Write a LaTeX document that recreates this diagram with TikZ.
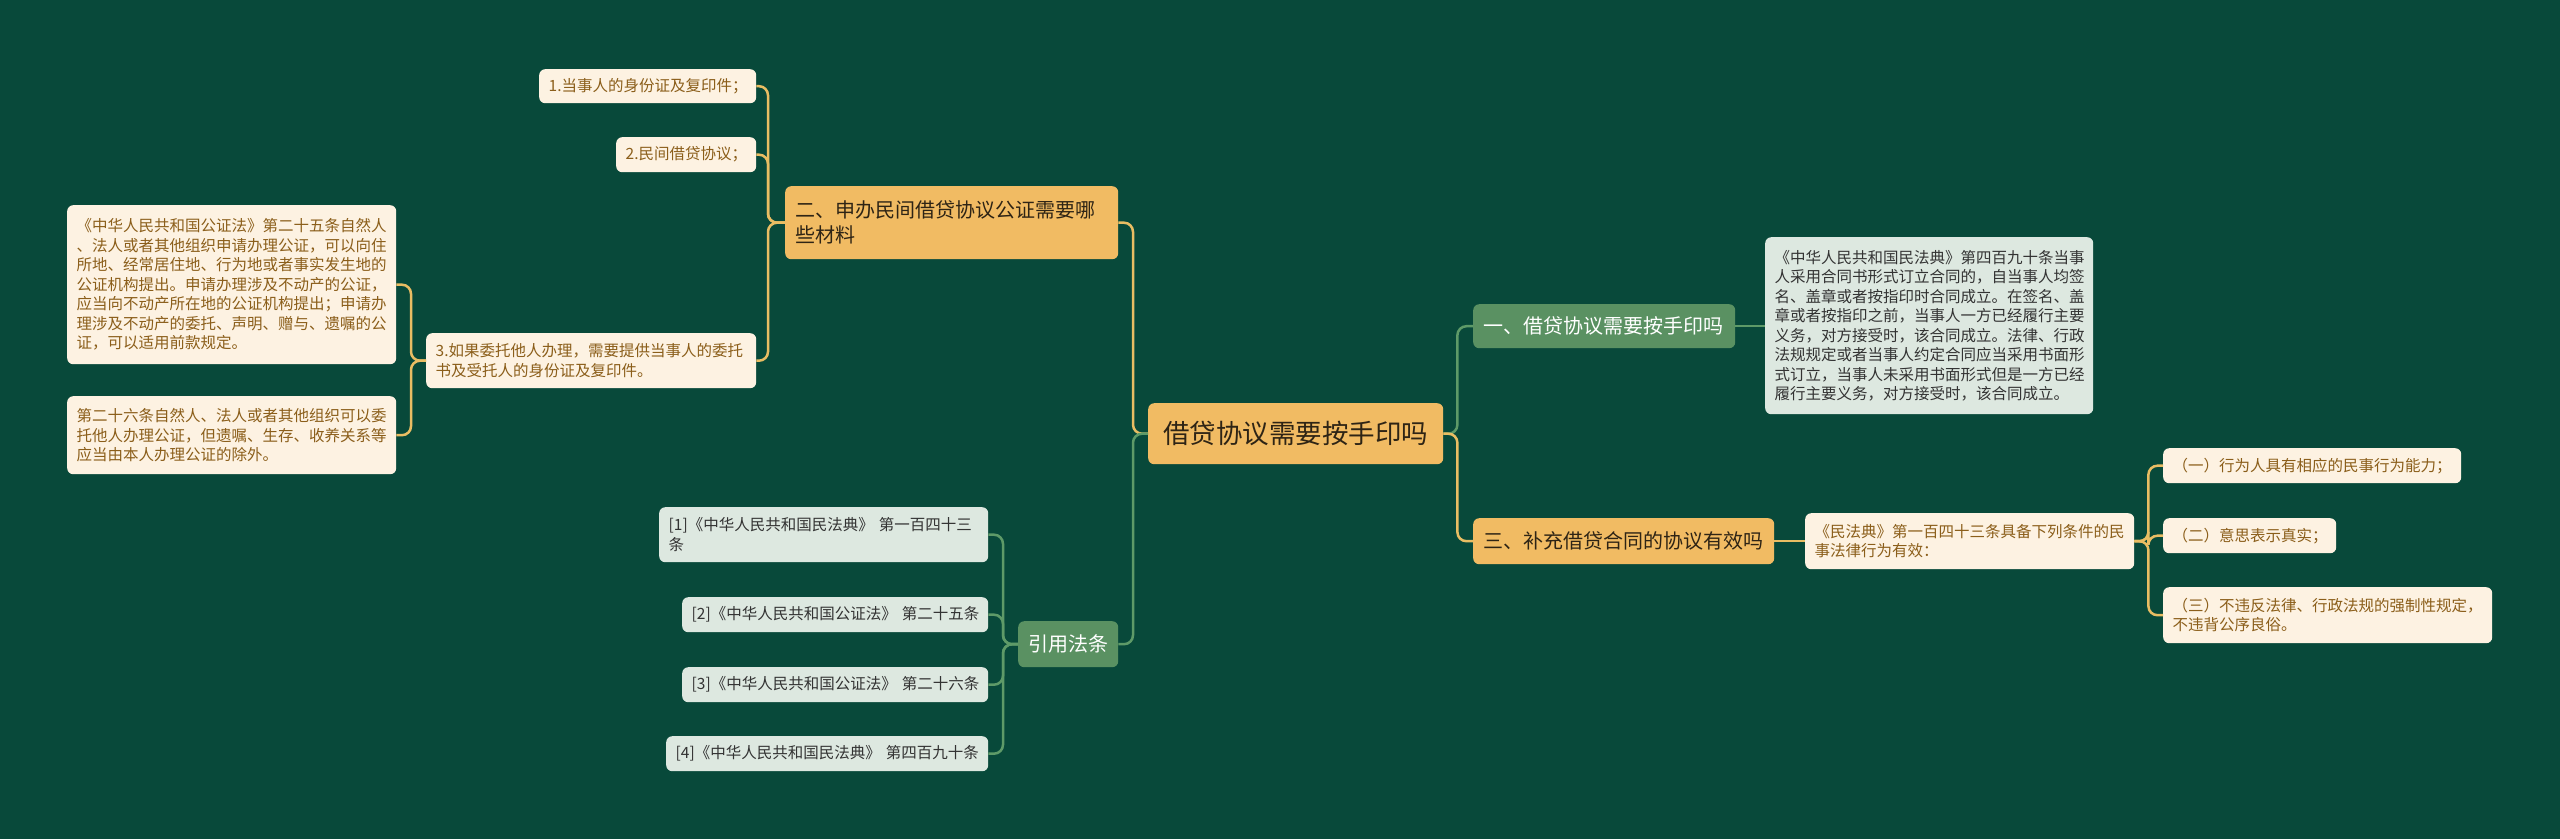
\documentclass[tikz,border=0pt]{standalone}
\usepackage{fontspec}
\setmainfont{Noto Sans CJK SC}
\definecolor{bgC}{HTML}{08493A}
\definecolor{orangeF}{HTML}{F1BB63}
\definecolor{greenF}{HTML}{5A9162}
\definecolor{cream}{HTML}{FDF2E2}
\definecolor{lightg}{HTML}{DDE8E0}
\definecolor{brownT}{HTML}{8B5E1A}
\definecolor{darkT}{HTML}{333333}
\definecolor{rootT}{HTML}{2E2415}
\definecolor{ylineC}{HTML}{E9BD63}
\definecolor{glineC}{HTML}{5E9A68}
\tikzset{
  box/.style={rounded corners=6pt, inner xsep=9.5pt, inner ysep=0pt, align=left, anchor=north west},
  leafC/.style={box, fill=cream, text=brownT, font=\fontsize{15.5}{19.5}\selectfont},
  leafG/.style={box, fill=lightg, text=darkT, font=\fontsize{15.5}{19.5}\selectfont},
  mainO/.style={box, fill=orangeF, text=rootT, font=\fontsize{20}{25}\selectfont, inner xsep=10pt},
  mainG/.style={box, fill=greenF, text=white, font=\fontsize{20}{25}\selectfont, inner xsep=10pt},
  rootbox/.style={box, fill=orangeF, text=rootT, font=\fontsize{26.5}{30}\selectfont, inner xsep=10pt, align=center},
  yline/.style={draw=ylineC, line width=2.5pt, rounded corners=9pt},
  gline/.style={draw=glineC, line width=2.5pt, rounded corners=9pt},
}
\begin{document}
\begin{tikzpicture}[x=1pt, y=-1pt]
\useasboundingbox[fill=bgC] (0,0) rectangle (2560,839);

% root
\node[rootbox, text width=275pt, minimum height=61pt] (root) at (1148,403) {借贷协议需要按手印吗};

% left upper branch
\node[mainO, text width=313pt, minimum height=73pt] (n2) at (785,186) {二、申办民间借贷协议公证需要哪\\些材料};
\node[leafC, text width=198pt, minimum height=34pt] (a1) at (539,69) {1.当事人的身份证及复印件；};
\node[leafC, text width=121pt, minimum height=35pt] (a2) at (616,137) {2.民间借贷协议；};
\node[leafC, text width=311pt, minimum height=55pt] (a3) at (426,333) {3.如果委托他人办理，需要提供当事人的委托\\书及受托人的身份证及复印件。};
\node[leafC, text width=310pt, minimum height=159pt] (b1) at (67,205) {《中华人民共和国公证法》第二十五条自然人\\、法人或者其他组织申请办理公证，可以向住\\所地、经常居住地、行为地或者事实发生地的\\公证机构提出。申请办理涉及不动产的公证，\\应当向不动产所在地的公证机构提出；申请办\\理涉及不动产的委托、声明、赠与、遗嘱的公\\证，可以适用前款规定。};
\node[leafC, text width=310pt, minimum height=78pt] (b2) at (67,396) {第二十六条自然人、法人或者其他组织可以委\\托他人办理公证，但遗嘱、生存、收养关系等\\应当由本人办理公证的除外。};

% left lower branch
\node[mainG, text width=80pt, minimum height=46pt] (cite) at (1018,621) {引用法条};
\node[leafG, text width=310pt, minimum height=55pt] (c1) at (659,507) {[1]《中华人民共和国民法典》~第一百四十三\\条};
\node[leafG, text width=287pt, minimum height=35pt] (c2) at (682,597) {[2]《中华人民共和国公证法》~第二十五条};
\node[leafG, text width=287pt, minimum height=35pt] (c3) at (682,667) {[3]《中华人民共和国公证法》~第二十六条};
\node[leafG, text width=303pt, minimum height=35pt] (c4) at (666,736) {[4]《中华人民共和国民法典》~第四百九十条};

% right upper branch
\node[mainG, text width=242pt, minimum height=44pt] (n1) at (1473,304) {一、借贷协议需要按手印吗};
\node[leafG, text width=309pt, minimum height=177pt] (d1) at (1765,237) {《中华人民共和国民法典》第四百九十条当事\\人采用合同书形式订立合同的，自当事人均签\\名、盖章或者按指印时合同成立。在签名、盖\\章或者按指印之前，当事人一方已经履行主要\\义务，对方接受时，该合同成立。法律、行政\\法规规定或者当事人约定合同应当采用书面形\\式订立，当事人未采用书面形式但是一方已经\\履行主要义务，对方接受时，该合同成立。};

% right lower branch
\node[mainO, text width=281pt, minimum height=46pt] (n3) at (1473,518) {三、补充借贷合同的协议有效吗};
\node[leafC, text width=310pt, minimum height=56pt] (e1) at (1805,513) {《民法典》第一百四十三条具备下列条件的民\\事法律行为有效：};
\node[leafC, text width=279pt, minimum height=35pt] (f1) at (2163,448) {（一）行为人具有相应的民事行为能力；};
\node[leafC, text width=154pt, minimum height=35pt] (f2) at (2163,518) {（二）意思表示真实；};
\node[leafC, text width=310pt, minimum height=56pt] (f3) at (2163,587) {（三）不违反法律、行政法规的强制性规定，\\不违背公序良俗。};

% connectors
\draw[yline] (root.west) -- ++(-15,0) |- (n2.east);
\draw[gline] (root.west) -- ++(-15,0) |- (cite.east);
\draw[gline] (root.east) -- ++(14,0) |- (n1.west);
\draw[yline] (root.east) -- ++(14,0) |- (n3.west);

\draw[yline] (n2.west) -- ++(-17,0) |- (a1.east);
\draw[yline] (n2.west) -- ++(-17,0) |- (a2.east);
\draw[yline] (n2.west) -- ++(-17,0) |- (a3.east);

\draw[yline] (a3.west) -- ++(-15,0) |- (b1.east);
\draw[yline] (a3.west) -- ++(-15,0) |- (b2.east);

\draw[gline] (cite.west) -- ++(-15,0) |- (c1.east);
\draw[gline] (cite.west) -- ++(-15,0) |- (c2.east);
\draw[gline] (cite.west) -- ++(-15,0) |- (c3.east);
\draw[gline] (cite.west) -- ++(-15,0) |- (c4.east);

\draw[gline] (n1.east) -- (n1.east -| d1.west);
\draw[yline] (n3.east) -- (e1.west);

\draw[yline] (e1.east) -- ++(14,0) |- (f1.west);
\draw[yline] (e1.east) -- ++(14,0) |- (f2.west);
\draw[yline] (e1.east) -- ++(14,0) |- (f3.west);
\end{tikzpicture}
\end{document}
